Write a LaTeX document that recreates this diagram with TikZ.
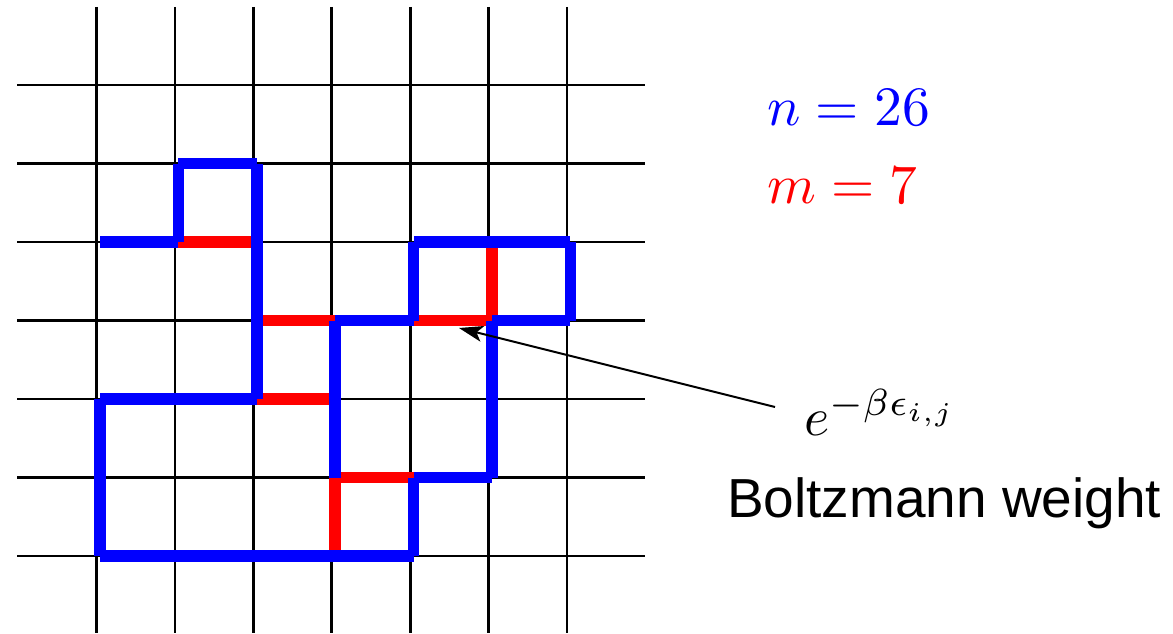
\documentclass[tikz,border=0pt]{standalone}
\usepackage{fontspec}
\newfontfamily\arialfont{Liberation Sans}
\usetikzlibrary{arrows.meta}
\begin{document}
\begin{tikzpicture}[x=0.5pt,y=-0.5pt,
  gridline/.style={line width=1.4pt, black},
  walkblue/.style={line width=5.75pt, blue, line cap=butt},
  walkred/.style={line width=5.75pt, red, line cap=butt},
  lbl/.style={anchor=base west, inner sep=0pt, outer sep=0pt},
  pointer/.style={line width=1pt, -{Stealth[length=12pt,width=8pt,inset=3pt]}}]
\useasboundingbox (0,0) rectangle (1173,633);
% lattice
\begin{scope}[xshift=48.25pt, yshift=-42.5pt, x=39.2pt, y=-39.25pt]
  \foreach \i in {0,...,6} {
    \draw[gridline] (\i,-0.994) -- (\i,6.98);
    \draw[gridline] (-1.014,\i) -- (6.996,\i);
  }
\end{scope}
% walk
\begin{scope}[xshift=50pt, yshift=-42.5pt, x=39.2pt, y=-39.25pt]
  \foreach \ax/\ay/\bx/\by in {1/2/2/2, 2/3/3/3, 2/4/3/4, 3/5/4/5, 3/5/3/6, 4/3/5/3, 5/2/5/3}
    \draw[walkred] (\ax,\ay) -- (\bx,\by);
  \foreach \ax/\ay/\bx/\by in {0/2/1/2, 1/2/1/1, 1/1/2/1, 2/1/2/2, 2/2/2/3, 2/3/2/4, 2/4/1/4,
      1/4/0/4, 0/4/0/5, 0/5/0/6, 0/6/1/6, 1/6/2/6, 2/6/3/6, 3/6/4/6, 4/6/4/5, 4/5/5/5,
      5/5/5/4, 5/4/5/3, 5/3/6/3, 6/3/6/2, 6/2/5/2, 5/2/4/2, 4/2/4/3, 4/3/3/3, 3/3/3/4, 3/4/3/5}
    \draw[walkblue] (\ax,\ay) -- (\bx,\by);
\end{scope}
% labels
\node[lbl, text=blue] (nlabel) at (767,125) {\scalebox{2.78}{$n=26$}};
\node[lbl, text=red] (mlabel) at (767,203) {\scalebox{2.78}{$m=7$}};
\node[lbl] (elabel) at (804,435.5) {\scalebox{2.7}{$e^{-\beta\epsilon_{i,j}}$}};
\node[lbl] (blabel) at (727,517) {\fontsize{27.5pt}{33pt}\arialfont Boltzmann weight};
% pointer
\coordinate (tail) at (775,407);
\coordinate (tip) at (459,328);
\draw[pointer] (tail) -- (tip);
\end{tikzpicture}
\end{document}
